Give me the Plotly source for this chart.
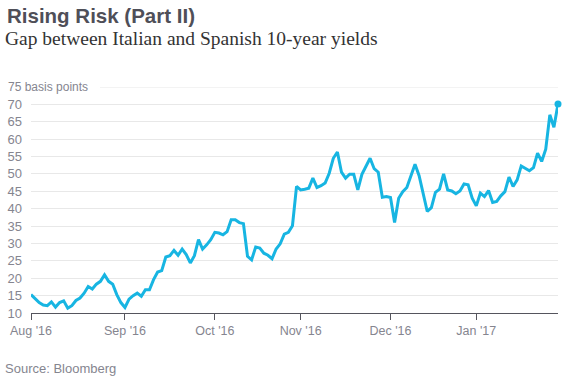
import pandas as pd
import plotly.graph_objects as go

# ---- data ----
trading_days = pd.bdate_range("2016-08-01", "2017-01-30").drop(pd.Timestamp("2016-12-26"))
dates = [d.strftime("%Y-%m-%d") for d in trading_days]

spread_bp = [
    15.3, 14.0, 13.0, 12.3, 12.1, 13.2, 11.7, 13.0, 13.5, 11.4,
    12.1, 13.6, 14.3, 15.7, 17.6, 16.9, 18.3, 19.1, 21.0, 19.1,
    18.3, 15.3, 13.0, 11.6, 14.0, 15.0, 15.7, 14.8, 16.7, 16.7,
    19.6, 21.8, 22.2, 26.1, 26.5, 28.0, 26.6, 28.4, 26.8, 24.4,
    26.5, 31.1, 28.4, 29.6, 31.1, 33.2, 33.0, 32.5, 33.4, 36.8,
    36.8, 36.0, 35.7, 26.3, 25.3, 29.0, 28.7, 27.2, 26.6, 25.6,
    28.4, 29.9, 32.7, 33.2, 35.1, 46.4, 45.4, 45.6, 45.9, 48.8,
    46.1, 46.6, 47.4, 50.2, 54.5, 56.3, 50.5, 48.8, 49.9, 49.9,
    45.4, 49.9, 52.1, 54.5, 51.5, 50.5, 43.3, 43.5, 43.2, 36.0,
    43.0, 44.9, 46.1, 49.3, 52.8, 49.5, 44.3, 39.2, 40.3, 44.7,
    45.6, 50.0, 45.4, 45.1, 44.3, 45.1, 47.1, 46.9, 43.0, 40.8,
    44.5, 43.5, 45.2, 41.8, 42.1, 43.7, 44.9, 49.1, 46.4, 48.3,
    52.3, 51.5, 50.9, 51.8, 56.0, 53.6, 57.1, 67.0, 63.4, 70.1,
]

tick_dates = ["2016-08-01", "2016-09-01", "2016-10-03", "2016-11-01", "2016-12-01", "2017-01-02"]
tick_labels = ["Aug '16", "Sep '16", "Oct '16", "Nov '16", "Dec '16", "Jan '17"]
y_ticks = [10, 15, 20, 25, 30, 35, 40, 45, 50, 55, 60, 65, 70]

# ---- layout geometry ----
W, H = 566, 376
L, R, T, B = 31, 8, 87, 63
PW, PH = W - L - R, H - T - B

def px2x(px):
    return (px - L) / PW

def px2y(py):
    return (H - B - py) / PH

LINE = "#17b5e2"
GRAY = "#85858f"
SANS = "Liberation Sans, Arial, sans-serif"

fig = go.Figure()
fig.add_trace(go.Scatter(
    x=dates, y=spread_bp, mode="lines",
    line=dict(color=LINE, width=3), hoverinfo="skip", showlegend=False,
    cliponaxis=False,
))
fig.add_trace(go.Scatter(
    x=[dates[-1]], y=[spread_bp[-1]], mode="markers",
    marker=dict(color=LINE, size=7), hoverinfo="skip", showlegend=False,
    cliponaxis=False,
))

fig.update_layout(
    width=W, height=H,
    margin=dict(l=L, r=R, t=T, b=B, pad=0),
    paper_bgcolor="white", plot_bgcolor="white",
    font=dict(family=SANS, color=GRAY, size=12),
    xaxis=dict(
        type="category", range=[0, len(dates) - 1],
        tickmode="array", tickvals=tick_dates, ticktext=tick_labels,
        showgrid=False, zeroline=False,
        showline=True, linecolor="#55555d", linewidth=1,
        ticks="outside", ticklen=6, tickcolor="#55555d", tickwidth=1,
        tickfont=dict(size=12.5, color=GRAY, family=SANS),
    ),
    yaxis=dict(
        range=[10, 75], tickmode="array", tickvals=y_ticks,
        ticktext=[str(v) for v in y_ticks],
        showgrid=True, gridcolor="#e8e8e8", gridwidth=1,
        zeroline=False, showline=False, ticks="",
        ticklabelstandoff=8,
        tickfont=dict(size=13, color=GRAY, family=SANS),
    ),
    shapes=[dict(
        type="line", xref="paper", yref="y",
        x0=px2x(100), x1=1, y0=75, y1=75,
        line=dict(color="#e8e8e8", width=1), layer="below",
    )],
    annotations=[
        dict(text="<b>Rising Risk (Part II)</b>", xref="paper", yref="paper",
             x=px2x(5), y=px2y(2), xanchor="left", yanchor="top", showarrow=False,
             font=dict(family=SANS, size=20.5, color="#4f4f58")),
        dict(text="Gap between Italian and Spanish 10-year yields", xref="paper", yref="paper",
             x=px2x(3), y=px2y(26), xanchor="left", yanchor="top", showarrow=False,
             font=dict(family="Liberation Serif, DejaVu Serif, serif", size=19.5, color="#333333")),
        dict(text="75 basis points", xref="paper", yref="paper",
             x=px2x(6), y=px2y(87), xanchor="left", yanchor="middle", showarrow=False,
             font=dict(family=SANS, size=12, color=GRAY)),
        dict(text="Source: Bloomberg", xref="paper", yref="paper",
             x=px2x(3), y=px2y(368), xanchor="left", yanchor="middle", showarrow=False,
             font=dict(family=SANS, size=13, color=GRAY)),
    ],
)

fig.write_html("out.html", config={"displayModeBar": False},
               post_script="document.body.style.margin='0';")
